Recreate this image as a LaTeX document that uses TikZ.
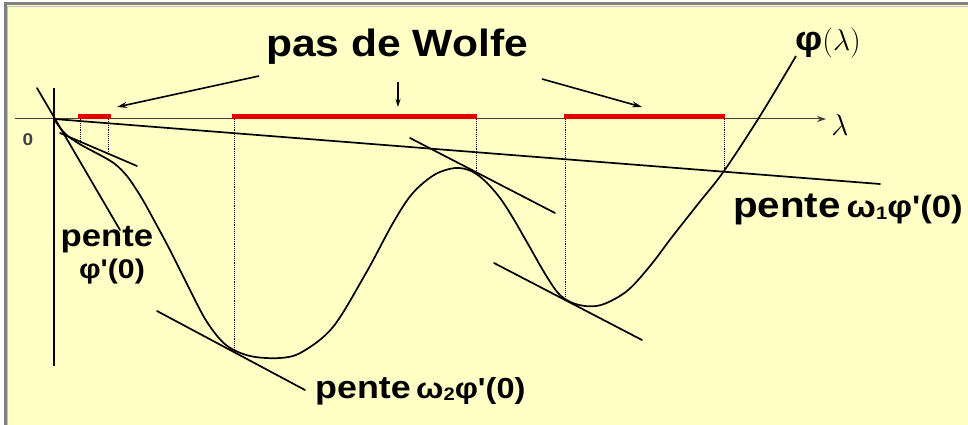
\RequirePackage{fix-cm}
\documentclass[tikz,border=0pt]{standalone}
\usepackage{fontspec}
\usetikzlibrary{arrows.meta}
\newfontfamily\lblfont[FakeStretch=1.12]{Liberation Sans}
\definecolor{bgyellow}{RGB}{255,255,198}
\definecolor{bordergray}{RGB}{128,128,128}
\definecolor{segred}{RGB}{228,0,0}
\tikzset{
  curveline/.style={line width=1.7pt, black, line join=round},
  tangentline/.style={line width=1.7pt, black, line cap=round},
  axisline/.style={line width=1pt, black!75},
  dotline/.style={line width=0.9pt, black, densely dotted},
  redseg/.style={line width=4.5pt, segred},
  pointer/.style={line width=1.6pt, black, -{Stealth[length=10pt,width=6pt]}},
  lbl/.style={font=\lblfont\bfseries, inner sep=0pt, text=black},
}
\begin{document}
\begin{tikzpicture}[x=1pt,y=-1pt]
\useasboundingbox (0,0) rectangle (968,425);
\fill[white] (0,0) rectangle (968,425);
\fill[bgyellow] (6,5) rectangle (968,425);
\draw[bordergray, line width=3pt] (5,425) -- (5,4) -- (968,4);
\draw[black!25, line width=1pt] (7.5,425) -- (7.5,6.5) -- (968,6.5);

% key coordinates
\coordinate (O) at (54,119);
\coordinate (xL) at (15,119);
\coordinate (xR) at (826,119);
\coordinate (yT) at (54,88);
\coordinate (yB) at (54,366);

% axes
\draw[axisline] (xL) -- (O);
\draw[axisline, -{Stealth[length=9pt,width=6pt]}] (O) -- (xR);
\draw[line width=1.4pt] (yT) -- (yB);
\node[inner sep=0pt, font=\fontsize{30}{30}\selectfont] (lam) at (840,125) {$\lambda$};
\node[lbl, font=\lblfont\bfseries\fontsize{17}{17}\selectfont, text=black!75] (zero) at (28,140) {0};

% red Wolfe segments
\coordinate (r1a) at (78,116.5); \coordinate (r1b) at (111,116.5);
\coordinate (r2a) at (232,116.5); \coordinate (r2b) at (477,116.5);
\coordinate (r3a) at (564,116.5); \coordinate (r3b) at (725,116.5);
\draw[redseg] (r1a) -- (r1b);
\draw[redseg] (r2a) -- (r2b);
\draw[redseg] (r3a) -- (r3b);

% dotted verticals
\coordinate (d1t) at (80,119);  \coordinate (d1b) at (80,142);
\coordinate (d2t) at (108,119); \coordinate (d2b) at (108,153);
\coordinate (d3t) at (234,119); \coordinate (d3b) at (234,351);
\coordinate (d4t) at (476,119); \coordinate (d4b) at (476,174);
\coordinate (d5t) at (565,119); \coordinate (d5b) at (565,300);
\coordinate (d6t) at (724,119); \coordinate (d6b) at (724,170);
\foreach \d in {1,...,6} \draw[dotline] (d\d t) -- (d\d b);

% line of slope omega1 phi'(0)
\coordinate (L1e) at (880,184);
\draw[tangentline] (O) -- (L1e);

% tangent lines
\coordinate (T0a) at (37,88);   \coordinate (T0b) at (120,230);
\coordinate (T1a) at (60,133);  \coordinate (T1b) at (137,166);
\coordinate (T2a) at (157,311); \coordinate (T2b) at (305,390);
\coordinate (T3a) at (410,138); \coordinate (T3b) at (555,213);
\coordinate (T4a) at (494,263); \coordinate (T4b) at (642,340);
\draw[tangentline] (T0a) -- (T0b);
\draw[tangentline] (T1a) -- (T1b);
\draw[tangentline] (T2a) -- (T2b);
\draw[tangentline] (T3a) -- (T3b);
\draw[tangentline] (T4a) -- (T4b);

% the curve phi
\draw[curveline] plot[smooth, tension=0.55] coordinates {
 (54,119) (61,129) (69,137) (83,146) (100,155) (115,164) (127,176) (136,189)
 (144,202) (155,222) (171,252) (190,290) (207,322) (226,345) (250,356)
 (280,358) (302,352) (333,327) (366,273) (393,223) (412,194) (434,175)
 (455,168) (471,171) (485,181) (500,198) (513,218) (528,244) (547,277)
 (561,296) (579,305) (601,305) (627,291) (650,266) (672,237) (698,204)
 (724,171) (760,116) (796,56)};

% labels
\node[lbl, font=\lblfont\bfseries\fontsize{38}{38}\selectfont] (wolfe) at (397,47) {pas de Wolfe};
\coordinate (p1s) at (259,76);  \coordinate (p1e) at (117,107);
\coordinate (p2s) at (398,82);  \coordinate (p2e) at (398,107);
\coordinate (p3s) at (542,79);  \coordinate (p3e) at (642,107);
\draw[pointer] (p1s) -- (p1e);
\draw[pointer, -{Stealth[length=8pt,width=5pt]}] (p2s) -- (p2e);
\draw[pointer] (p3s) -- (p3e);

\node[lbl, anchor=west] (phil) at (795,43)
  {\fontsize{34}{34}\selectfont φ\normalfont\fontsize{30}{30}\selectfont$(\lambda)$};

\node[lbl, anchor=west] (pente1) at (733,209)
  {\fontsize{36}{36}\selectfont pente\,\fontsize{31}{31}\selectfont ω\raisebox{-2pt}{\fontsize{18}{18}\selectfont 1}φ'(0)};
\node[lbl, anchor=west] (pente2) at (315,391)
  {\fontsize{32}{32}\selectfont pente\,\fontsize{29}{29}\selectfont ω\raisebox{-2pt}{\fontsize{18}{18}\selectfont 2}φ'(0)};
\node[lbl] (pente0) at (107,240) {\fontsize{31}{31}\selectfont pente};
\node[lbl] (phi0) at (112,272) {\fontsize{27}{27}\selectfont φ'(0)};
\end{tikzpicture}
\end{document}
